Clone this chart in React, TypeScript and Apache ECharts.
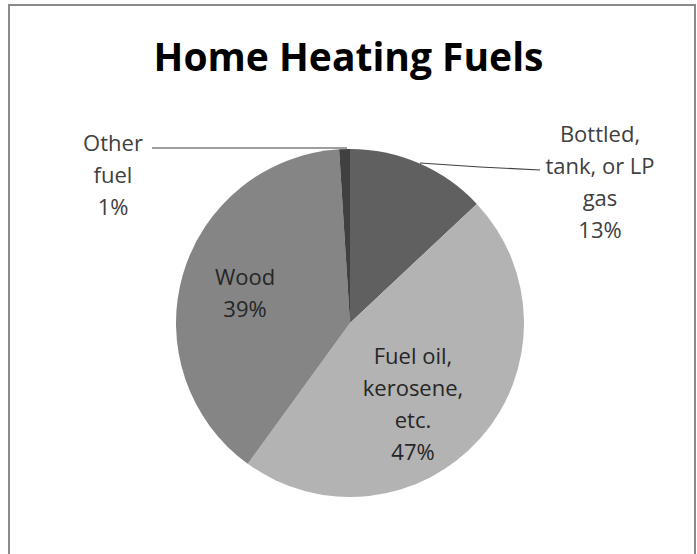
import React, { useEffect, useRef } from "react";
import * as echarts from "echarts";

const titleText = "Home Heating Fuels";
const categories = ["Bottled, tank, or LP gas", "Fuel oil, kerosene, etc.", "Wood", "Other fuel"];
const labelNames = ["Bottled,\ntank, or LP\ngas", "Fuel oil,\nkerosene,\netc.", "Wood", "Other\nfuel"];
const values = [13, 47, 39, 1];
const colors = ["#606060", "#b3b3b3", "#858585", "#404040"];
const insideLabel = [false, true, true, false];

export default function App() {
  const ref = useRef<HTMLDivElement>(null);
  useEffect(() => {
    if (!ref.current) return;
    const chart = echarts.init(ref.current, null, { renderer: "svg" });
    const font = "'Open Sans', 'DejaVu Sans', sans-serif";
    // label anchor centres (px) and leader lines
    const labelPos: number[][] = [[600, 181], [413, 403], [245, 292], [113, 174]];
    const leader: (number[][] | null)[] = [
      [[420, 163], [480, 167], [540, 170]],
      null,
      null,
      [[347, 148], [250, 148], [152, 148]],
    ];
    chart.setOption({
      animation: false,
      backgroundColor: "#ffffff",
      title: {
        text: titleText,
        left: "center",
        top: 31,
        textStyle: { fontFamily: font, fontWeight: "bold", fontSize: 39, color: "#000000" },
      },
      graphic: [
        {
          type: "rect",
          shape: { x: 9, y: 5, width: 686, height: 560 },
          style: { fill: "none", stroke: "#8a8a8a", lineWidth: 2 },
          silent: true,
        },
      ],
      series: [
        {
          type: "pie",
          center: [350, 323],
          radius: 174,
          startAngle: 90,
          clockwise: true,
          avoidLabelOverlap: false,
          itemStyle: { borderWidth: 0 },
          emphasis: { disabled: true },
          data: categories.map((name, i) => ({
            name,
            value: values[i],
            itemStyle: { color: colors[i] },
            label: {
              show: true,
              position: insideLabel[i] ? "inside" : "outside",
              color: insideLabel[i] ? "#262626" : "#404040",
            },
            labelLine: {
              show: !insideLabel[i],
              lineStyle: { color: "#404040", width: 1.2 },
            },
          })),
          label: {
            fontFamily: font,
            fontSize: 22,
            lineHeight: 32,
            align: "center",
            formatter: (p: any) => `${labelNames[p.dataIndex]}\n${Math.round(p.percent)}%`,
          },
          labelLayout: (params: any) => {
            const i = params.dataIndex;
            const out: any = {
              x: labelPos[i][0],
              y: labelPos[i][1],
              align: "center",
              verticalAlign: "middle",
            };
            if (leader[i]) out.labelLinePoints = leader[i];
            return out;
          },
        },
      ],
    });
    return () => chart.dispose();
  }, []);
  return (
    <div
      ref={ref}
      style={{ position: "absolute", left: 0, top: 0, width: 697, height: 554 }}
    />
  );
}
